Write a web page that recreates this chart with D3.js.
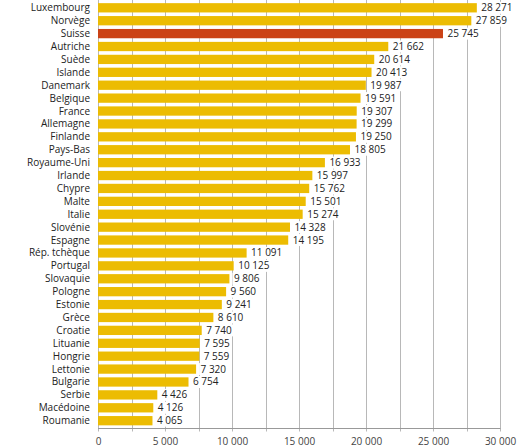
<!DOCTYPE html>
<html><head><meta charset="utf-8">
<script src="https://cdn.jsdelivr.net/npm/d3@7"></script>
<style>
html,body{margin:0;padding:0;background:#fff;}
svg{display:block;}
text{font-family:"Open Sans","DejaVu Sans",sans-serif;}
</style>
</head><body>
<svg id="c" width="530" height="448"></svg>
<script>
const countries = ["Luxembourg","Norvège","Suisse","Autriche","Suède","Islande","Danemark","Belgique","France","Allemagne","Finlande","Pays-Bas","Royaume-Uni","Irlande","Chypre","Malte","Italie","Slovénie","Espagne","Rép. tchèque","Portugal","Slovaquie","Pologne","Estonie","Grèce","Croatie","Lituanie","Hongrie","Lettonie","Bulgarie","Serbie","Macédoine","Roumanie"];
const values = [28271,27859,25745,21662,20614,20413,19987,19591,19307,19299,19250,18805,16933,15997,15762,15501,15274,14328,14195,11091,10125,9806,9560,9241,8610,7740,7595,7559,7320,6754,4426,4126,4065];
const highlight = ["Suisse"];
const tickValues = [0,5000,10000,15000,20000,25000,30000];
const gridValues = d3.range(0, 30001, 2500);

const fmt = v => d3.format(",")(v).replace(/,/g, " ");
const data = countries.map((c,i)=>({c, v: values[i]}));

const svg = d3.select("#c");
const x = d3.scaleLinear().domain([0,30000]).range([98,500]);
const y = d3.scaleBand().domain(countries).range([1.35,427.15]).paddingInner(0.28).paddingOuter(0.14);
const axisY = 428.5;

// gridlines
svg.append("g").selectAll("line").data(gridValues).join("line")
  .attr("x1", d=>Math.round(x(d))+0.5).attr("x2", d=>Math.round(x(d))+0.5)
  .attr("y1", 0).attr("y2", axisY+3)
  .attr("stroke", "#b8b8b8").attr("stroke-width", 1);

// bars
svg.append("g").selectAll("rect").data(data).join("rect")
  .attr("x", x(0)).attr("y", d=>y(d.c))
  .attr("width", d=>x(d.v)-x(0)).attr("height", y.bandwidth())
  .attr("fill", d=>highlight.includes(d.c) ? "#cb4216" : "#ecbc02");

// value labels with white background
const lab = svg.append("g").selectAll("g").data(data).join("g")
  .attr("transform", d=>`translate(${x(d.v)+3},${y(d.c)+y.bandwidth()/2})`);
lab.append("text")
  .attr("x", 1.5).attr("dy","0.35em")
  .attr("font-size", "10px").attr("fill", "#222")
  .text(d=>fmt(d.v));
lab.each(function(){
  const g = d3.select(this);
  const bb = g.select("text").node().getBBox();
  g.insert("rect","text").attr("x", bb.x-1.5).attr("y", -6).attr("width", bb.width+3).attr("height", 12).attr("fill","#fff");
});

// category labels
svg.append("g").selectAll("text").data(data).join("text")
  .attr("x", 90).attr("y", d=>y(d.c)+y.bandwidth()/2).attr("dy","0.35em")
  .attr("text-anchor","end").attr("font-size","10px").attr("fill","#222")
  .text(d=>d.c);

// axis
const ax = d3.axisBottom(x).tickValues(tickValues).tickSize(0).tickPadding(9).tickFormat(fmt);
const ag = svg.append("g").attr("transform", `translate(0,${axisY})`).call(ax);
ag.select(".domain").attr("stroke","#999").attr("d", `M${x(0)},0H${x(30000)+0.5}`);
ag.selectAll(".tick text").attr("font-size","10px").attr("fill","#444").attr("font-family",'"Open Sans","DejaVu Sans",sans-serif');
</script>
</body></html>
